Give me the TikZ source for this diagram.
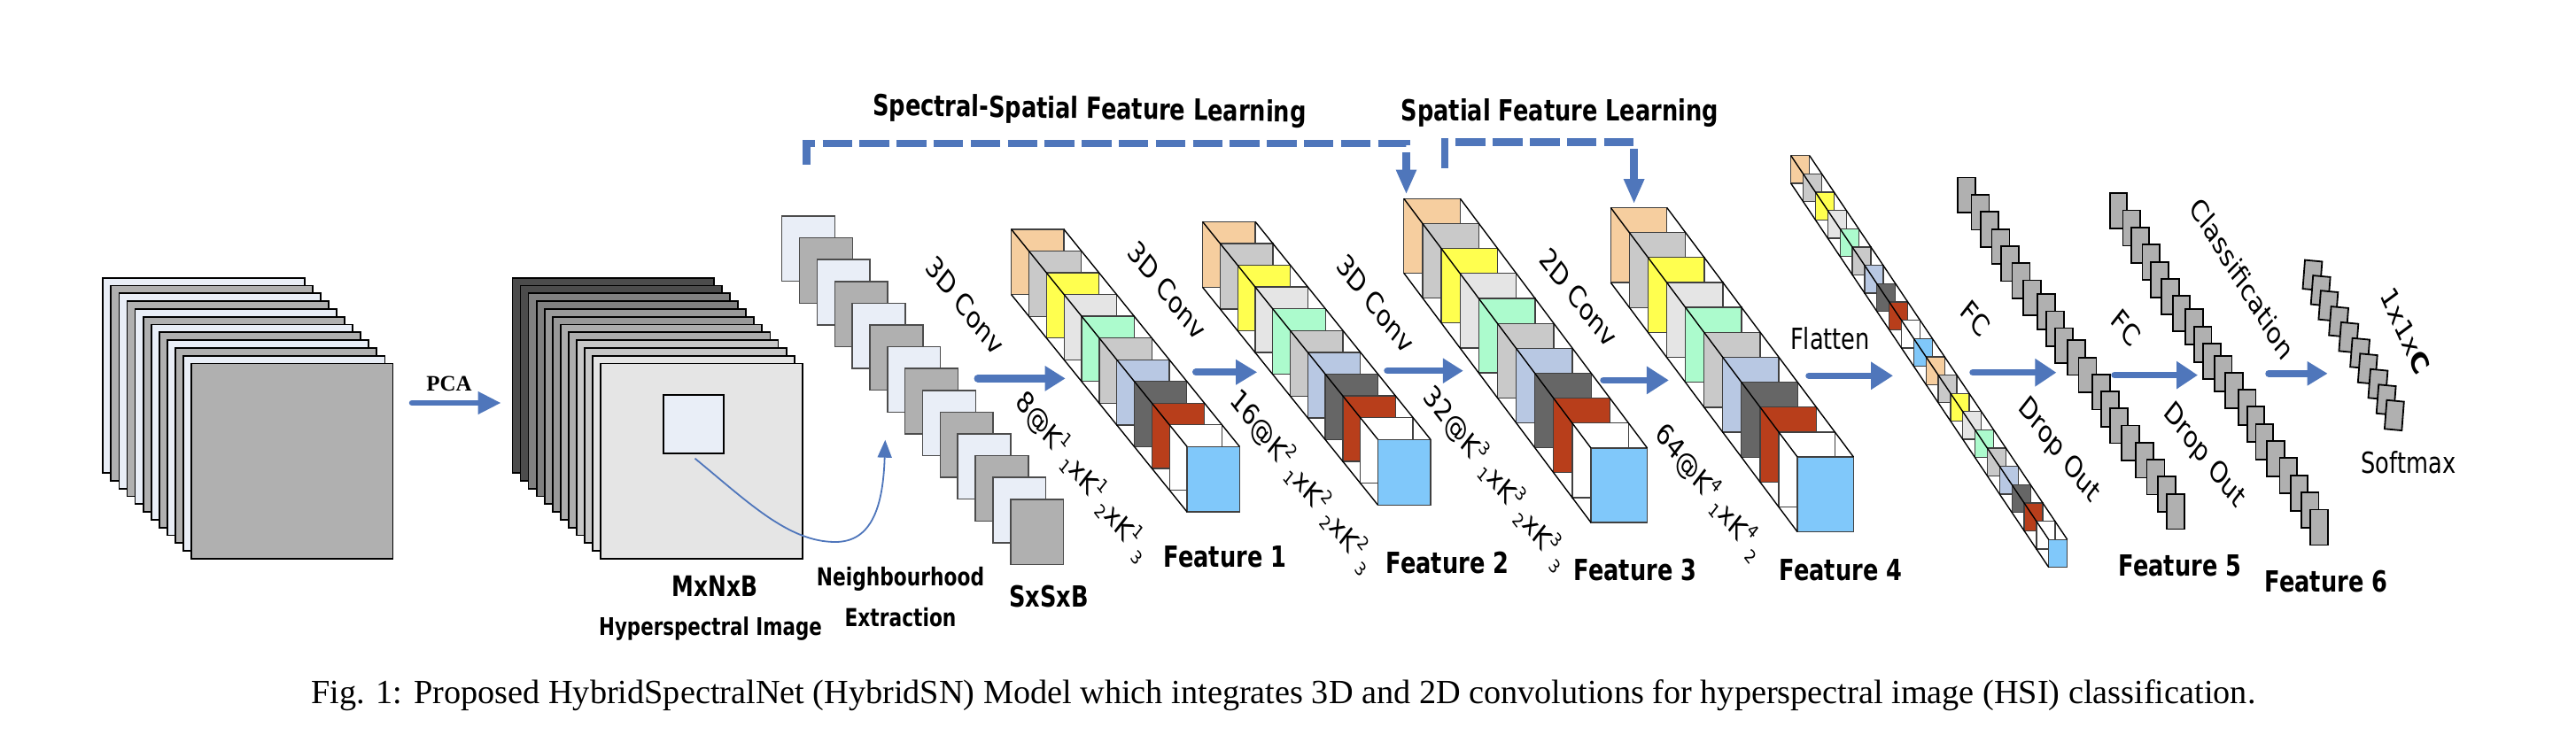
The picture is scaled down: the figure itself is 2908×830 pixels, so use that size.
\documentclass[tikz,border=0pt]{standalone}
\usepackage{fontspec}
\usetikzlibrary{arrows.meta}
\setmainfont{DejaVu Sans}
\newfontfamily\serifcap{Liberation Serif}

\definecolor{lineblue}{HTML}{4F76BB}
\definecolor{pagelight}{HTML}{E9EEF7}
\definecolor{pagegray}{HTML}{B0B0B0}
\definecolor{sorange}{HTML}{F6CE9F}
\definecolor{sgray}{HTML}{C9C9C9}
\definecolor{syellow}{HTML}{FFFF4F}
\definecolor{slight}{HTML}{E5E5E5}
\definecolor{sgreen}{HTML}{ACFBCD}
\definecolor{sblue}{HTML}{B8C8E3}
\definecolor{sdark}{HTML}{666666}
\definecolor{sred}{HTML}{B83E1B}
\definecolor{scyan}{HTML}{80C8FA}

\tikzset{
    sheet/.style={draw=black,line width=1.8bp},
    patch/.style={draw=black!70,line width=1.5bp},
    slice/.style={draw=black!75,line width=1.3bp},
    rail/.style={draw=black,line width=1.4bp},
    txt/.style={inner sep=0pt,xscale=.78,font=\fontsize{33.5}{36}\selectfont},
    boldtxt/.style={inner sep=0pt,xscale=.78,font=\fontsize{33}{36}\selectfont\bfseries},
    fatarrow/.style n args={2}{draw=lineblue,line width=7.5bp,line cap=round,-{Triangle[length=#1,width=#2]}},
    dasharrow/.style={draw=lineblue,line width=8.5bp,dash pattern=on 33.5bp off 8.3bp,-{Triangle[length=28bp,width=21.5bp]}},
}

\newcommand{\kup}[1]{\raisebox{.5em}{\fontsize{21}{21}\selectfont #1}}
\newcommand{\kdn}[1]{\hspace{.15em}\raisebox{-.2em}{\fontsize{21}{21}\selectfont #1}}

% x y w h dx dy last colours
\newcommand{\slices}[8]{
    \foreach \c [count=\i from 0] in #8
        \draw[slice,fill=\c] (#1+\i*#5,#2+\i*#6) rectangle ++(#3,#4);
    \draw[rail] (#1,#2) -- (#1+#7*#5,#2+#7*#6);
    \draw[rail] (#1+#3,#2) -- (#1+#3+#7*#5,#2+#7*#6);
    \draw[rail] (#1,#2+#4) -- (#1+#7*#5,#2+#4+#7*#6);
}
\def\onerun{sorange,sgray,syellow,slight,sgreen,sgray,sblue,sdark,sred,white,scyan}
\def\tworun{sorange,sgray,syellow,slight,sgreen,sgray,sblue,sdark,sred,white,scyan,sorange,sgray,syellow,slight,sgreen,sgray,sblue,sdark,sred,white,scyan}

\begin{document}
\begin{tikzpicture}[x=1bp,y=-1bp]
    \useasboundingbox (0,0) rectangle (2908,830);

    \foreach \c [count=\i from 0] in {pagelight,pagegray,pagelight,pagegray,pagelight,pagegray,pagelight,pagegray,pagelight,pagegray,pagelight,pagegray}
        \draw[sheet,fill=\c] (116.3+\i*9.07,313.7+\i*8.8) rectangle ++(227.4,220.3);
    \foreach \g [count=\i from 0] in {70,70,50,50,40,40,32,32,22,22,10,10}
        \draw[sheet,fill=black!\g] (578.4+\i*9.09,313.7+\i*8.8) rectangle ++(227.4,220.3);
    \draw[sheet,fill=pagelight] (748.9,446) rectangle (817.2,512.3);

    \foreach \c [count=\i from 0] in {pagelight,pagegray,pagelight,pagegray,pagelight,pagegray,pagelight,pagegray,pagelight,pagegray,pagelight,pagegray,pagelight,pagegray}
        \draw[patch,fill=\c] (882.7+\i*19.85,244+\i*24.6) rectangle ++(59.8,73.7);

    \slices{1141.7}{259}{59.3}{73.7}{19.83}{24.53}{10}{\onerun}
    \slices{1357.6}{250.4}{59.5}{74}{19.78}{24.58}{10}{\onerun}
    \slices{1584.8}{224.3}{63.6}{84.1}{21.12}{28.17}{10}{\onerun}
    \slices{1818.3}{234.5}{63.4}{84.6}{21.07}{28.15}{10}{\onerun}
    \slices{2021.7}{175.7}{21}{31.3}{13.86}{20.65}{21}{\tworun}

    \foreach \x/\y in {2210.2/200.4,2225.5/220,2236.2/239.3,2248.5/258.6,2258.7/277.9,2271.4/297.1,2284.2/316.4,2300/332.1,2310.2/351.4,2319.9/370.4,2333.7/383.9,2346.4/403.6,2362.2/422.9,2371.9/442.1,2382.1/461,2394.9/480.4,2410.7/500,2423.5/518.9,2436.2/538.2,2445.9/557.9}
        \draw[sheet,fill=pagegray] (\x,\y) rectangle ++(20,39.5);
    \foreach \x/\y in {2381.6/218.2,2396.4/237.5,2406.1/257.1,2418.4/276.1,2428.1/295.7,2440.3/314.6,2452.6/333.9,2467.3/349.3,2477/368.6,2487.2/388.2,2500/401.8,2512.2/420.7,2527/440,2536.7/459.3,2546.4/478.6,2559.2/497.9,2573.5/517.1,2585.7/536.8,2598/556.1,2608.2/575.4}
        \draw[sheet,fill=pagegray] (\x,\y) rectangle ++(19.5,40);
    \foreach \x/\y in {2602/293.6,2611.2/311.1,2619.9/328.2,2631.6/346.1,2642.9/363.9,2655.6/381.8,2664.3/399.3,2676/416.8,2685.2/434.3,2694.4/451.8}
        \draw[sheet,fill=pagegray] (\x,\y) -- ++(19.4,1.8) -- ++(-2.5,32.5) -- ++(-19.4,-1.8) -- cycle;

    \coordinate (pcaA) at (465,455);
    \coordinate (pcaB) at (565.7,455);
    \coordinate (convA) at (1104,427.4);
    \coordinate (convB) at (1202.7,427.4);
    \coordinate (convC) at (1350,420.3);
    \coordinate (convD) at (1419.2,420.3);
    \coordinate (convE) at (1566,418.7);
    \coordinate (convF) at (1651.8,418.7);
    \coordinate (convG) at (1810,429.4);
    \coordinate (convH) at (1883.9,429.4);
    \coordinate (flatA) at (2042,424.3);
    \coordinate (flatB) at (2137,424.3);
    \coordinate (fcA) at (2227,420.7);
    \coordinate (fcB) at (2321.4,420.7);
    \coordinate (fcC) at (2387,423.6);
    \coordinate (fcD) at (2481,423.6);
    \coordinate (clsA) at (2561,421.8);
    \coordinate (clsB) at (2627.6,421.8);
    \draw[fatarrow={26bp}{24bp},line width=6.5bp] (pcaA) -- (pcaB);
    \draw[fatarrow={23bp}{27bp},line width=9bp] (convA) -- (convB);
    \draw[fatarrow={24bp}{27bp},line width=8bp] (convC) -- (convD);
    \draw[fatarrow={23bp}{27bp}] (convE) -- (convF);
    \draw[fatarrow={25bp}{30bp}] (convG) -- (convH);
    \draw[fatarrow={25bp}{30bp}] (flatA) -- (flatB);
    \draw[fatarrow={24bp}{30bp}] (fcA) -- (fcB);
    \draw[fatarrow={24bp}{30bp}] (fcC) -- (fcD);
    \draw[fatarrow={23bp}{26bp}] (clsA) -- (clsB);

    \coordinate (specA) at (910.7,186);
    \coordinate (specB) at (910.7,162);
    \coordinate (specC) at (1587.5,162);
    \coordinate (specD) at (1587.5,219.5);
    \coordinate (spatA) at (1631,190);
    \coordinate (spatB) at (1631,160.6);
    \coordinate (spatC) at (1844.6,160.6);
    \coordinate (spatD) at (1844.6,230.2);
    \draw[dasharrow] (specA) -- (specB) -- (specC) -- (specD);
    \draw[dasharrow] (spatA) -- (spatB) -- (spatC) -- (spatD);

    \coordinate (hoodA) at (784.5,517.7);
    \coordinate (hoodB) at (943,612);
    \coordinate (hoodC) at (999.3,496.7);
    \draw[draw=lineblue,line width=1.8bp,-{Triangle[length=20bp,width=16bp]}] (hoodA) .. controls (844.5,567) and (890,612) .. (hoodB) .. controls (985,612) and (997,570) .. (hoodC);

    \node[inner sep=0pt,font=\serifcap\fontsize{25}{30}\selectfont\bfseries] (pcaT) at (507,433) {PCA};
    \node[boldtxt,rotate=-.7] (specT) at (1230,125) {Spectral-Spatial Feature Learning};
    \node[boldtxt] (spatT) at (1760.7,127.8) {Spatial Feature Learning};
    \node[boldtxt,font=\fontsize{32}{36}\selectfont\bfseries] (sizeT) at (807,662) {MxNxB};
    \node[boldtxt,font=\fontsize{27.5}{32}\selectfont\bfseries] (hsiT) at (802,710) {Hyperspectral Image};
    \node[boldtxt,font=\fontsize{28}{32}\selectfont\bfseries] (hoodT) at (1016.5,654) {Neighbourhood};
    \node[boldtxt,font=\fontsize{28}{32}\selectfont\bfseries] (extrT) at (1016.5,697) {Extraction};
    \node[boldtxt] (patchT) at (1184,674) {SxSxB};
    \node[boldtxt] (feat1) at (1383,629) {Feature 1};
    \node[boldtxt] (feat2) at (1634,636) {Feature 2};
    \node[boldtxt] (feat3) at (1846,644) {Feature 3};
    \node[boldtxt] (feat4) at (2078,644) {Feature 4};
    \node[boldtxt] (feat5) at (2461,638.4) {Feature 5};
    \node[boldtxt] (feat6) at (2626,657) {Feature 6};

    \node[txt,rotate=-45] (conv1) at (1089.5,345) {3D Conv};
    \node[txt,rotate=-45] (conv2) at (1317.6,328) {3D Conv};
    \node[txt,rotate=-45] (conv3) at (1553,343) {3D Conv};
    \node[txt,rotate=-45] (conv4) at (1782,336) {2D Conv};
    \node[txt,rotate=-45] (size1) at (1222.7,536.5) {8@K\kup{1}\kdn{1}xK\kup{1}\kdn{2}xK\kup{1}\kdn{3}};
    \node[txt,rotate=-45] (size2) at (1470.4,542) {16@K\kup{2}\kdn{1}xK\kup{2}\kdn{2}xK\kup{2}\kdn{3}};
    \node[txt,rotate=-45] (size3) at (1688.9,538.5) {32@K\kup{3}\kdn{1}xK\kup{3}\kdn{2}xK\kup{3}\kdn{3}};
    \node[txt,rotate=-45] (size4) at (1930.4,553.8) {64@K\kup{4}\kdn{1}xK\kup{4}\kdn{2}};
    \node[txt,font=\fontsize{33}{36}\selectfont] (flatT) at (2066,382) {Flatten};
    \node[txt,rotate=-45] (fc1) at (2230,359.7) {FC};
    \node[txt,rotate=-45] (fc2) at (2400,370) {FC};
    \node[txt,rotate=-45] (drop1) at (2324,509) {Drop Out};
    \node[txt,rotate=-45] (drop2) at (2488,515) {Drop Out};
    \node[txt,rotate=-52,font=\fontsize{33.5}{36}\selectfont] (clsT) at (2531.5,314.5) {Classification};
    \node[txt,rotate=-60,font=\fontsize{33.5}{36}\selectfont] (outT) at (2715.6,373.7) {1x1x\textbf{C}};
    \node[txt,font=\fontsize{33}{36}\selectfont] (softT) at (2718.9,522) {Softmax};

    \node[inner sep=0pt,font=\serifcap\fontsize{38.4}{44}\selectfont] (capT) at (1449,785) {Fig. 1: Proposed HybridSpectralNet (HybridSN) Model which integrates 3D and 2D convolutions for hyperspectral image (HSI) classification.};
\end{tikzpicture}
\end{document}
